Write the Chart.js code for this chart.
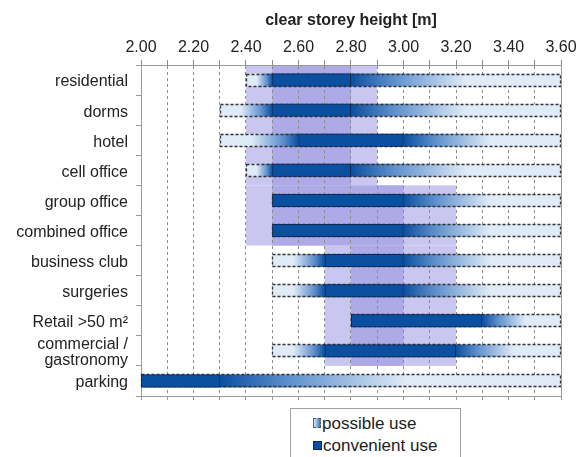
<!DOCTYPE html>
<html>
<head>
<meta charset="utf-8">
<script src="https://cdn.jsdelivr.net/npm/chart.js@4.4.1/dist/chart.umd.min.js"></script>
<style>
  body { margin: 0; background: #fff; overflow: hidden; font-family: "Liberation Sans", Arial, sans-serif; }
  #wrap { position: relative; width: 583px; height: 457px; overflow: hidden; }
  #chart { position: absolute; left: 0; top: 0; }
  #legend { position: absolute; left: 290px; top: 408px; width: 171px; height: 70px; border: 1px solid #a0a0a0; box-sizing: border-box; color: #222; font-size: 17px; background: #fff; }
  .item { position: absolute; left: 22px; height: 20px; line-height: 20px; white-space: nowrap; }
  .icon { display: inline-block; vertical-align: middle; margin-right: 1px; margin-top: -3px; }
  .possible { width: 6px; height: 8px; border: 1px dashed #4a5a78; background: linear-gradient(to right, #dde9f7, #3f78bf); }
  .convenient { width: 7px; height: 7px; background: #0b4fa0; border: 1px solid #0a2a57; }
</style>
</head>
<body>
<div id="wrap">
  <canvas id="chart" width="583" height="412"></canvas>
  <div id="legend">
    <div class="item" style="top:5px"><span class="icon possible"></span>possible use</div>
    <div class="item" style="top:27px"><span class="icon convenient"></span>convenient use</div>
  </div>
</div>
<script>
// rows, top to bottom
const categories = ['residential', 'dorms', 'hotel', 'cell office', 'group office', 'combined office',
  'business club', 'surgeries', 'Retail >50 m²', ['commercial /', 'gastronomy'], 'parking'];

// clear storey height [m]
const possibleFrom   = [2.40, 2.30, 2.30, 2.40, 2.50, 2.50, 2.50, 2.50, 2.80, 2.50, 2.00];
const possibleTo     = [3.60, 3.60, 3.60, 3.60, 3.60, 3.60, 3.60, 3.60, 3.60, 3.60, 3.60];
const convenientFrom = [2.50, 2.50, 2.60, 2.50, 2.50, 2.50, 2.70, 2.70, 2.80, 2.70, 2.00];
const convenientTo   = [2.80, 2.80, 3.00, 2.80, 3.00, 3.00, 3.00, 3.00, 3.30, 3.20, 2.30];

// shaded height bands behind the bars (row index ranges)
const bandFrom     = [2.40, 2.40, 2.70];
const bandTo       = [2.90, 3.20, 3.20];
const bandCoreFrom = [2.50, 2.50, 2.80];
const bandCoreTo   = [2.80, 3.00, 3.00];
const bandFirstRow = [0, 4, 6];
const bandLastRow  = [3, 5, 9];

const tickLabels = ['2.00', '2.20', '2.40', '2.60', '2.80', '3.00', '3.20', '3.40', '3.60'];

const dark = '#0b4fa0';
const mid = '#5d8fcc';
const light = '#e0ebf8';
const font = '"Liberation Sans", Arial, sans-serif';

function possibleFill(context) {
  const chart = context.chart;
  const x = chart.scales.x;
  if (!chart.chartArea || !x) return light;
  const i = context.dataIndex;
  const p0 = possibleFrom[i], p1 = possibleTo[i], c0 = convenientFrom[i], c1 = convenientTo[i];
  const g = chart.ctx.createLinearGradient(x.getPixelForValue(p0), 0, x.getPixelForValue(p1), 0);
  const f = v => Math.min(1, Math.max(0, (v - p0) / (p1 - p0)));
  if (c0 > p0) {
    g.addColorStop(0, light);
    g.addColorStop(f(p0 + (c0 - p0) * 0.4), light);
    g.addColorStop(f(c0 - (c0 - p0) * 0.2), mid);
    g.addColorStop(f(c0), dark);
  } else {
    g.addColorStop(0, dark);
  }
  const r = p1 - c1;
  g.addColorStop(f(c1), dark);
  g.addColorStop(f(c1 + r * 0.2), mid);
  g.addColorStop(f(c1 + r * 0.55), light);
  g.addColorStop(1, light);
  return g;
}

const bands = {
  id: 'bands',
  beforeDraw(chart) {
    const { ctx, scales: { x, y } } = chart;
    const half = Math.abs(y.getPixelForValue(1) - y.getPixelForValue(0)) / 2;
    ctx.save();
    for (let i = 0; i < bandFrom.length; i++) {
      const top = y.getPixelForValue(bandFirstRow[i]) - half;
      const bottom = y.getPixelForValue(bandLastRow[i]) + half;
      ctx.fillStyle = '#c9c7ef';
      ctx.fillRect(x.getPixelForValue(bandFrom[i]), top, x.getPixelForValue(bandTo[i]) - x.getPixelForValue(bandFrom[i]), bottom - top);
      ctx.fillStyle = '#aeaae7';
      ctx.fillRect(x.getPixelForValue(bandCoreFrom[i]), top, x.getPixelForValue(bandCoreTo[i]) - x.getPixelForValue(bandCoreFrom[i]), bottom - top);
    }
    ctx.restore();
  },
  afterDraw(chart) {
    const { ctx, chartArea } = chart;
    ctx.save();
    ctx.strokeStyle = '#9a9a9a';
    ctx.lineWidth = 1;
    ctx.beginPath();
    ctx.moveTo(Math.round(chartArea.right) + 0.5, chartArea.top);
    ctx.lineTo(Math.round(chartArea.right) + 0.5, chartArea.bottom);
    ctx.stroke();
    ctx.restore();
  }
};

// dashed outline round the "possible use" bars
const dashedOutline = {
  id: 'dashedOutline',
  afterDatasetDraw(chart, args) {
    if (args.index !== 0) return;
    const ctx = chart.ctx;
    ctx.save();
    ctx.setLineDash([3, 2]);
    ctx.strokeStyle = '#333333';
    ctx.lineWidth = 1.3;
    args.meta.data.forEach(bar => {
      const { x, y, base, height } = bar.getProps(['x', 'y', 'base', 'height'], true);
      const left = Math.min(x, base), right = Math.max(x, base);
      ctx.strokeRect(Math.round(left) + 0.5, Math.round(y - height / 2) + 0.5, Math.round(right - left) - 1, Math.round(height) - 1);
    });
    ctx.restore();
  }
};

new Chart(document.getElementById('chart'), {
  type: 'bar',
  data: {
    labels: categories,
    datasets: [
      {
        label: 'possible use',
        data: possibleFrom.map((v, i) => [v, possibleTo[i]]),
        backgroundColor: possibleFill,
        borderWidth: 0,
        order: 2
      },
      {
        label: 'convenient use',
        data: convenientFrom.map((v, i) => [v, convenientTo[i]]),
        backgroundColor: dark,
        borderColor: '#0a2a57',
        borderWidth: 1,
        borderSkipped: false,
        order: 1
      }
    ]
  },
  options: {
    indexAxis: 'y',
    responsive: false,
    animation: false,
    devicePixelRatio: 1,
    layout: { padding: { left: 0, right: 22, top: 0, bottom: 0 } },
    datasets: { bar: { grouped: false, barPercentage: 0.43, categoryPercentage: 1 } },
    plugins: { legend: { display: false }, tooltip: { enabled: false } },
    scales: {
      x: {
        type: 'linear',
        position: 'top',
        min: 2.0,
        max: 3.6,
        afterFit: s => { s.height = 65; },
        ticks: {
          stepSize: 0.1,
          autoSkip: false,
          maxRotation: 0,
          padding: 3,
          color: '#222',
          font: { family: font, size: 16 },
          callback: v => {
            const s = Number(v).toFixed(2);
            return tickLabels.includes(s) ? s : '';
          }
        },
        grid: { color: '#8c8c8c', tickColor: '#8c8c8c', tickLength: 5 },
        border: { color: '#9a9a9a', dash: [3, 3] },
        title: {
          display: true,
          text: 'clear storey height [m]',
          color: '#222',
          font: { family: font, size: 16, weight: 'bold' },
          padding: { top: 11, bottom: 0 }
        }
      },
      x2: {
        type: 'linear',
        position: 'bottom',
        min: 2.0,
        max: 3.6,
        afterFit: s => { s.height = 4; },
        ticks: { stepSize: 0.1, display: false },
        grid: { drawOnChartArea: false, tickLength: 4, tickColor: '#9a9a9a' },
        border: { color: '#9a9a9a' }
      },
      y: {
        afterFit: s => { s.width = 141; },
        ticks: {
          autoSkip: false,
          padding: 8,
          labelOffset: 2,
          color: '#222',
          font: { family: font, size: 16, lineHeight: 1.0 }
        },
        grid: { drawOnChartArea: false, tickLength: 5, tickColor: '#9a9a9a' },
        border: { color: '#9a9a9a' }
      }
    }
  },
  plugins: [bands, dashedOutline]
});
</script>
</body>
</html>
